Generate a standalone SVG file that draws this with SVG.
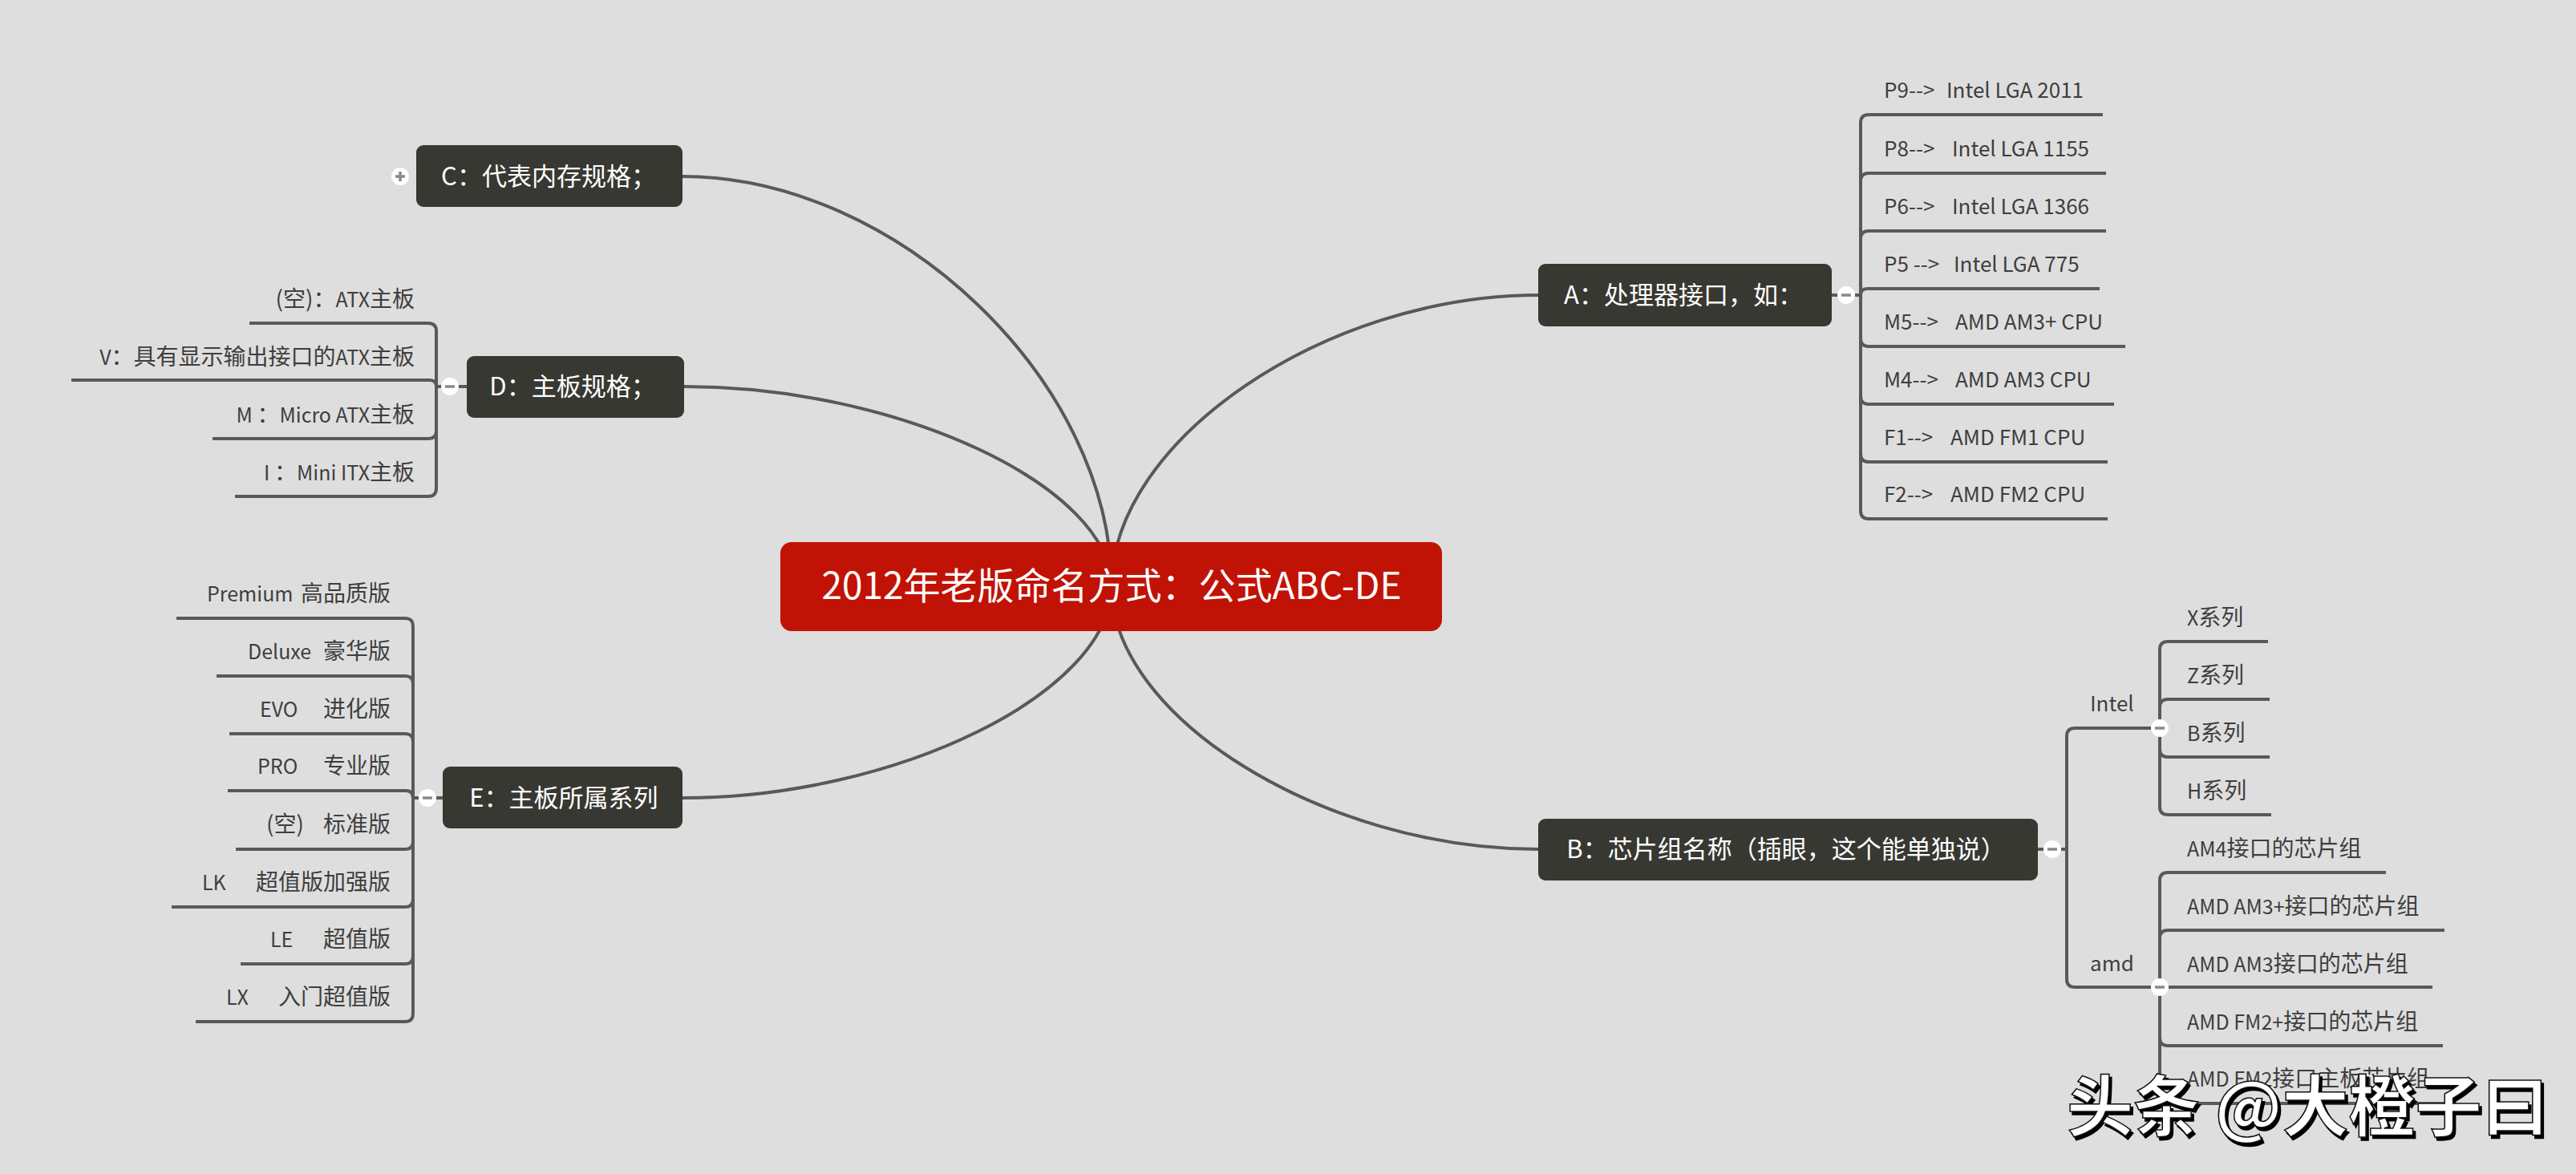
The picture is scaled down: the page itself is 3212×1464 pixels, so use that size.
<svg xmlns="http://www.w3.org/2000/svg" width="3212" height="1464" viewBox="0 0 3212 1464">
<defs>
<filter id="wmShadow" x="-5%" y="-10%" width="110%" height="130%">
  <feDropShadow dx="3" dy="4" stdDeviation="0.6" flood-color="#000000" flood-opacity="1"/>
</filter>
</defs>
<style>
.bg{fill:#dedede}
.conn path{fill:none;stroke:#595959;stroke-width:4;stroke-linecap:butt}
.main rect{fill:#383832}
.main text{fill:#ffffff;font-family:"Noto Sans CJK SC","Noto Sans",sans-serif;font-size:31px;text-anchor:middle}
.root rect{fill:#c11206}
.root text{fill:#ffffff;font-family:"Noto Sans CJK SC","Noto Sans",sans-serif;font-size:46px;text-anchor:middle}
.sub{fill:#3e3e3e;font-family:"Noto Sans CJK SC","Noto Sans",sans-serif;font-size:28px}
.lt{font-size:25px}
.la{font-size:26px}
.end{text-anchor:end}
.tg circle{fill:#ffffff}
.tg line{stroke:#8a8a8a;stroke-width:3.5}
.wm{font-family:"Noto Sans CJK SC",sans-serif;font-size:83px;font-weight:700;fill:#ffffff;stroke:#111111;stroke-width:1.5}
</style>
<rect class="bg" x="0" y="0" width="3212" height="1464"/>

<g id="connectors" class="conn">
  <!-- root to main topics -->
  <path d="M1386,731 C1386,549.5 1652,368 1918,368"/>
  <path d="M1386,731 C1386,475.5 1118.5,220 851,220"/>
  <path d="M1386,731 C1386,606.5 1119.5,482 853,482"/>
  <path d="M1386,731 C1386,863 1118.5,995 851,995"/>
  <path d="M1386,731 C1386,895 1652,1059 1918,1059"/>
  <!-- A children -->
  <path d="M2284,368 H2320"/>
  <path d="M2320,368 V153 Q2320,143 2330,143 H2622"/>
  <path d="M2320,368 V226 Q2320,216 2330,216 H2626"/>
  <path d="M2320,368 V298 Q2320,288 2330,288 H2626"/>
  <path d="M2320,368 Q2320,360 2328,360 H2618"/>
  <path d="M2320,368 V422 Q2320,432 2330,432 H2650"/>
  <path d="M2320,368 V494 Q2320,504 2330,504 H2636"/>
  <path d="M2320,368 V566 Q2320,576 2330,576 H2628"/>
  <path d="M2320,368 V637 Q2320,647 2330,647 H2628"/>
  <!-- B children -->
  <path d="M2541,1059 H2577"/>
  <path d="M2577,1059 V918 Q2577,908 2587,908 H2693"/>
  <path d="M2577,1059 V1221 Q2577,1231 2587,1231 H2693"/>
  <path d="M2693,908 V810 Q2693,800 2703,800 H2828"/>
  <path d="M2693,908 V882 Q2693,872 2703,872 H2830"/>
  <path d="M2693,908 V934 Q2693,944 2703,944 H2830"/>
  <path d="M2693,908 V1006 Q2693,1016 2703,1016 H2832"/>
  <path d="M2693,1231 V1098 Q2693,1088 2703,1088 H2975"/>
  <path d="M2693,1231 V1170 Q2693,1160 2703,1160 H3048"/>
  <path d="M2693,1231 H3033"/>
  <path d="M2693,1231 V1294 Q2693,1304 2703,1304 H3046"/>
  <path d="M2693,1231 V1366 Q2693,1376 2703,1376 H3060"/>
  <!-- D children -->
  <path d="M582,482 H544"/>
  <path d="M544,482 V413 Q544,403 534,403 H311"/>
  <path d="M544,482 Q544,474 536,474 H89"/>
  <path d="M544,482 V537 Q544,547 534,547 H265"/>
  <path d="M544,482 V609 Q544,619 534,619 H293"/>
  <!-- E children -->
  <path d="M552,995 H515"/>
  <path d="M515,995 V781 Q515,771 505,771 H220"/>
  <path d="M515,995 V853 Q515,843 505,843 H270"/>
  <path d="M515,995 V925 Q515,915 505,915 H286"/>
  <path d="M515,995 Q515,986 506,986 H284"/>
  <path d="M515,995 V1049 Q515,1059 505,1059 H294"/>
  <path d="M515,995 V1121 Q515,1131 505,1131 H214"/>
  <path d="M515,995 V1192 Q515,1202 505,1202 H300"/>
  <path d="M515,995 V1264 Q515,1274 505,1274 H244"/>
</g>

<g id="root" class="root">
  <rect x="973" y="676" width="825" height="111" rx="14"/>
  <text x="1386" y="747">2012年老版命名方式：公式ABC-DE</text>
</g>

<g id="node-A" class="main">
  <rect x="1918" y="329" width="366" height="78" rx="9"/>
  <text x="2099" y="379">A：处理器接口，如：</text>
</g>
<g id="node-B" class="main">
  <rect x="1918" y="1021" width="623" height="77" rx="9"/>
  <text x="2227" y="1070">B：芯片组名称（插眼，这个能单独说）</text>
</g>
<g id="node-C" class="main">
  <rect x="519" y="181" width="332" height="77" rx="9"/>
  <text x="684" y="231">C：代表内存规格；</text>
</g>
<g id="node-D" class="main">
  <rect x="582" y="444" width="271" height="77" rx="9"/>
  <text x="714" y="493">D：主板规格；</text>
</g>
<g id="node-E" class="main">
  <rect x="552" y="956" width="299" height="77" rx="9"/>
  <text x="703" y="1006">E：主板所属系列</text>
</g>

<g id="toggles" class="tg">
  <g id="tg-A"><circle cx="2302" cy="368" r="11"/><line x1="2296" y1="368" x2="2308" y2="368"/></g>
  <g id="tg-B"><circle cx="2559" cy="1059" r="11"/><line x1="2553" y1="1059" x2="2565" y2="1059"/></g>
  <g id="tg-Intel"><circle cx="2693" cy="908" r="11"/><line x1="2687" y1="908" x2="2699" y2="908"/></g>
  <g id="tg-amd"><circle cx="2693" cy="1231" r="11"/><line x1="2687" y1="1231" x2="2699" y2="1231"/></g>
  <g id="tg-D"><circle cx="561" cy="482" r="11"/><line x1="555" y1="482" x2="567" y2="482"/></g>
  <g id="tg-E"><circle cx="533" cy="995" r="11"/><line x1="527" y1="995" x2="539" y2="995"/></g>
  <g id="tg-C"><circle cx="499" cy="220" r="11"/><line x1="493" y1="220" x2="505" y2="220"/><line x1="499" y1="214" x2="499" y2="226"/></g>
</g>

<g id="A-children">
  <text class="sub la" x="2349" y="122">P9--&gt; <tspan x="2427">Intel LGA 2011</tspan></text>
  <text class="sub la" x="2349" y="195">P8--&gt; <tspan x="2434">Intel LGA 1155</tspan></text>
  <text class="sub la" x="2349" y="267">P6--&gt; <tspan x="2434">Intel LGA 1366</tspan></text>
  <text class="sub la" x="2349" y="339">P5 --&gt; <tspan x="2436">Intel LGA 775</tspan></text>
  <text class="sub la" x="2349" y="411">M5--&gt; <tspan x="2438">AMD AM3+ CPU</tspan></text>
  <text class="sub la" x="2349" y="483">M4--&gt; <tspan x="2438">AMD AM3 CPU</tspan></text>
  <text class="sub la" x="2349" y="555">F1--&gt; <tspan x="2432">AMD FM1 CPU</tspan></text>
  <text class="sub la" x="2349" y="626">F2--&gt; <tspan x="2432">AMD FM2 CPU</tspan></text>
</g>

<g id="B-children">
  <text class="sub la" x="2606" y="887">Intel</text>
  <text class="sub la" x="2606" y="1211">amd</text>
  <text class="sub" x="2727" y="780"><tspan class="lt">X</tspan>系列</text>
  <text class="sub" x="2727" y="852"><tspan class="lt">Z</tspan>系列</text>
  <text class="sub" x="2727" y="924"><tspan class="lt">B</tspan>系列</text>
  <text class="sub" x="2727" y="996"><tspan class="lt">H</tspan>系列</text>
  <text class="sub" x="2727" y="1068"><tspan class="lt">AM4</tspan>接口的芯片组</text>
  <text class="sub" x="2727" y="1140"><tspan class="lt">AMD AM3+</tspan>接口的芯片组</text>
  <text class="sub" x="2727" y="1212"><tspan class="lt">AMD AM3</tspan>接口的芯片组</text>
  <text class="sub" x="2727" y="1284"><tspan class="lt">AMD FM2+</tspan>接口的芯片组</text>
  <text class="sub" x="2727" y="1355"><tspan class="lt">AMD FM2</tspan>接口主板芯片组</text>
</g>

<g id="D-children">
  <text class="sub end" x="517" y="383">(空)：<tspan class="lt">ATX</tspan>主板</text>
  <text class="sub end" x="517" y="455"><tspan class="lt">V</tspan>：具有显示输出接口的<tspan class="lt">ATX</tspan>主板</text>
  <text class="sub end" x="517" y="527"><tspan class="lt">M </tspan>：<tspan class="lt">Micro ATX</tspan>主板</text>
  <text class="sub end" x="517" y="599"><tspan class="lt">I </tspan>：<tspan class="lt">Mini ITX</tspan>主板</text>
</g>

<g id="E-children">
  <text class="sub" x="258" y="750"><tspan class="lt">Premium</tspan> <tspan x="375">高品质版</tspan></text>
  <text class="sub" x="309" y="822"><tspan class="lt">Deluxe</tspan> <tspan x="403">豪华版</tspan></text>
  <text class="sub" x="324" y="894"><tspan class="lt">EVO</tspan> <tspan x="403">进化版</tspan></text>
  <text class="sub" x="321" y="965"><tspan class="lt">PRO</tspan> <tspan x="403">专业版</tspan></text>
  <text class="sub" x="332" y="1038">(空) <tspan x="403">标准版</tspan></text>
  <text class="sub" x="252" y="1110"><tspan class="lt">LK</tspan> <tspan x="319">超值版加强版</tspan></text>
  <text class="sub" x="337" y="1181"><tspan class="lt">LE</tspan> <tspan x="403">超值版</tspan></text>
  <text class="sub" x="282" y="1253"><tspan class="lt">LX</tspan> <tspan x="347">入门超值版</tspan></text>
</g>

<g id="watermark">
  <text class="wm" x="2577" y="1410" filter="url(#wmShadow)">头条 @大橙子曰</text>
</g>
</svg>
